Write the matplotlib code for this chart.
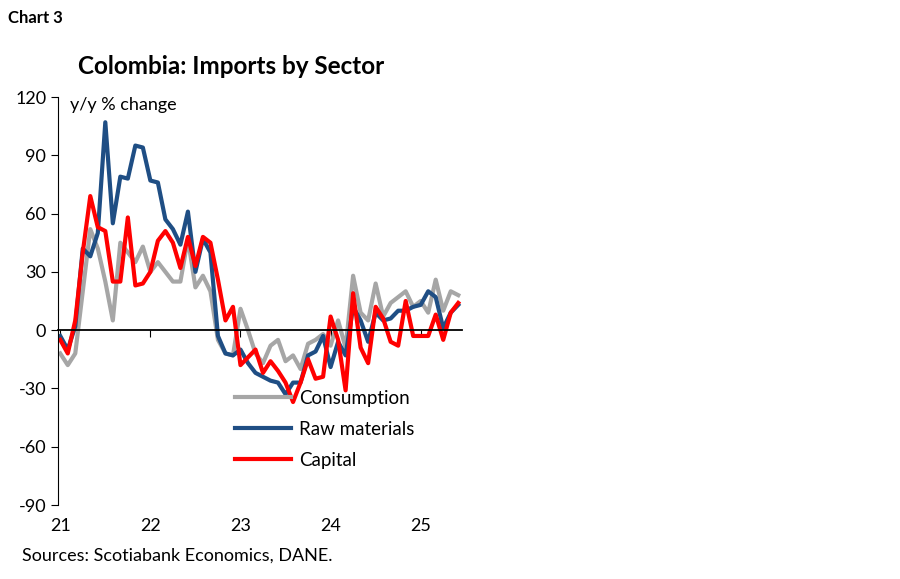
import matplotlib.pyplot as plt
import numpy as np

plt.rcParams['font.family'] = ['Lato', 'DejaVu Sans']
plt.rcParams['axes.unicode_minus'] = False

#Monthly y/y % change, Jan 2021 - Jun 2025
consumption = [-12, -18, -12, 20, 52, 42, 25, 5, 45, 40, 35, 43, 30, 35, 30, 25, 25, 47, 22, 28, 20,
	-5, -12, -13, 11, 0, -12, -17, -8, -5, -16, -13, -20, -7, -5, -2, -8, 5, -9, 28, 9, 5, 24, 7,
	14, 17, 20, 12, 15, 9, 26, 10, 20, 18]
raw_materials = [-3, -10, 2, 42, 38, 50, 107, 55, 79, 78, 95, 94, 77, 76, 57, 52, 44, 61, 30, 47,
	40, -3, -12, -13, -10, -17, -22, -24, -26, -27, -33, -27, -27, -13, -11, -3, -19, -6, -13, 12,
	5, -6, 9, 5, 6, 10, 10, 12, 13, 20, 17, 1, 9, 13]
capital = [-5, -12, 5, 40, 69, 53, 51, 25, 25, 58, 23, 24, 30, 46, 51, 45, 32, 48, 33, 48, 45,
	26, 5, 12, -18, -14, -10, -22, -16, -21, -27, -37, -27, -15, -25, -24, 7, -5, -31, 19, -9, -17,
	12, 6, -6, -8, 15, -3, -3, -3, 8, -5, 9, 14]
year_labels = ['21', '22', '23', '24', '25']
months = np.arange(len(capital))

fig = plt.figure(figsize=[9, 5.79], dpi=100)
ax = fig.add_axes([58/900, 74/579, 404/900, 408/579])

ax.plot(months, consumption, color='#a6a6a6', lw=3, label='Consumption')
ax.plot(months, raw_materials, color='#1f4e84', lw=3, label='Raw materials')
ax.plot(months, capital, color='#ff0000', lw=3, label='Capital')

ax.set_xlim(-0.3, 53.5)
ax.set_ylim(-90, 120)
ax.set_yticks(np.arange(-90, 121, 30))
ax.tick_params(axis='y', labelsize=13, length=5, direction='out')
for s in ['top', 'right']:
	ax.spines[s].set_visible(False)
ax.spines['bottom'].set_position(('data', 0))
ax.spines['bottom'].set_linewidth(1.3)
ax.set_xticks(np.arange(0, 54, 12))
ax.set_xticklabels(year_labels)
ax.tick_params(axis='x', labelsize=13, length=5, direction='out', pad=130)

ax.text(0.03, 1.0, 'y/y % change', transform=ax.transAxes, fontsize=13, va='top')
ax.legend(loc='lower left', bbox_to_anchor=(0.42, 0.07), frameon=False, fontsize=13.5,
	handlelength=3, handletextpad=0.4, labelspacing=0.75, borderaxespad=0)

fig.text(8/900, 1-18/579, 'Chart 3', fontsize=12, fontweight='bold', va='center')
fig.text(78/900, 1-66/579, 'Colombia: Imports by Sector', fontsize=17.5, fontweight='bold', va='center')
fig.text(22/900, 1-556/579, 'Sources: Scotiabank Economics, DANE.', fontsize=13, va='center')

plt.savefig('out.png', dpi=100)
